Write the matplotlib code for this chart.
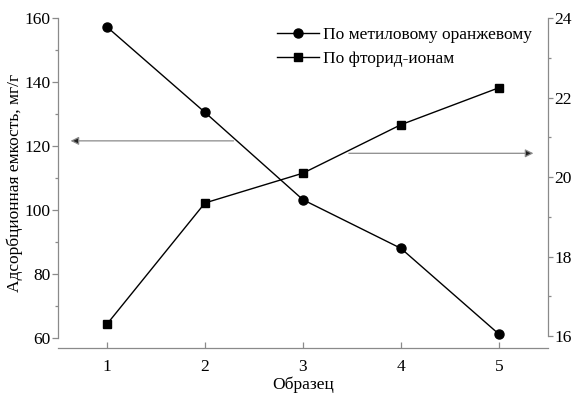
import matplotlib
matplotlib.use("Agg")
import matplotlib.pyplot as plt
from matplotlib.ticker import MultipleLocator

samples = [1, 2, 3, 4, 5]
methyl_orange = [157.2, 130.5, 103.2, 88.0, 61.2]
fluoride = [16.3, 19.35, 20.1, 21.32, 22.25]

label_mo = "По метиловому оранжевому"
label_f = "По фторид-ионам"
x_label = "Образец"
y_label = "Адсорбционная емкость, мг/г"

plt.rcParams["font.family"] = ["Liberation Serif", "DejaVu Serif"]
plt.rcParams["font.size"] = 12.5

spine_color = "#8a8a8a"

fig = plt.figure(figsize=(5.78, 3.94), dpi=100)
ax = fig.add_axes([0.1003, 0.1168, 0.8477, 0.8400])
ax2 = ax.twinx()

l1, = ax.plot(samples, methyl_orange, color="black", lw=1.0, marker="o", ms=6.5,
              label=label_mo)
l2, = ax2.plot(samples, fluoride, color="black", lw=1.0, marker="s", ms=5.8,
               label=label_f)

ax.set_xlim(0.5, 5.5)
ax.set_ylim(56.875, 160.3)
ax2.set_ylim(15.70, 24.03)

ax.set_xticks(samples)
ax.yaxis.set_major_locator(MultipleLocator(20))
ax.yaxis.set_minor_locator(MultipleLocator(10))
ax2.yaxis.set_major_locator(MultipleLocator(2))
ax2.yaxis.set_minor_locator(MultipleLocator(1))

for a in (ax, ax2):
    for s in a.spines.values():
        s.set_color(spine_color)
        s.set_linewidth(0.9)
    a.spines["top"].set_visible(False)

ax.spines["right"].set_visible(False)
ax2.spines["left"].set_visible(False)
ax2.spines["bottom"].set_visible(False)
ax.spines["left"].set_bounds(60, 160)
ax2.spines["right"].set_bounds(16, 24)

ax.tick_params(axis="y", which="both", direction="out", color=spine_color, width=0.9, pad=1.5)
ax.tick_params(axis="y", which="major", length=4)
ax.tick_params(axis="y", which="minor", length=2.5)
ax.tick_params(axis="x", direction="in", length=4, color=spine_color, width=0.9, pad=8)
ax2.tick_params(axis="y", which="both", direction="out", color=spine_color, width=0.9, pad=1)
ax2.tick_params(axis="y", which="major", length=3.5)
ax2.tick_params(axis="y", which="minor", length=2.5)

ax.set_xlabel(x_label, labelpad=1)
ax.set_ylabel(y_label, labelpad=1)

# arrows pointing to the axis each series belongs to
arrow_style = dict(arrowstyle="-|>", ec=spine_color, fc="#222222", lw=0.9,
                   mutation_scale=12)
ax.annotate("", xy=(0.60, 121.6), xytext=(2.32, 121.6), arrowprops=arrow_style)
ax2.annotate("", xy=(5.38, 20.6), xytext=(3.44, 20.6), arrowprops=arrow_style)

ax.legend(handles=[l1, l2], loc="upper left", bbox_to_anchor=(0.479, 0.931),
          bbox_transform=fig.transFigure, frameon=False, handlelength=2.4,
          handletextpad=0.25, labelspacing=0.45, borderaxespad=0, borderpad=0)

fig.savefig("out.png", dpi=100)
